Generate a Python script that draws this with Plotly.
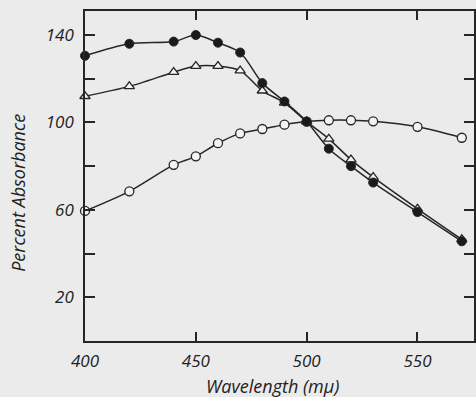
import plotly.graph_objects as go

wavelength = [400, 420, 440, 450, 460, 470, 480, 490, 500, 510, 520, 530, 550, 570]
filled_circles = [130.5, 136, 137, 140, 136.5, 132, 118, 109.6, 100.4, 88, 80, 72.5, 59, 45.6]
triangles = [112, 116.5, 123, 125.8, 125.8, 123.7, 114.5, 109, 100.4, 92.5, 83, 75, 60.5, 46.5]
open_circles = [59.5, 68.5, 80.6, 84.5, 90.5, 95, 97, 99, 100.4, 101, 101, 100.5, 98, 93]

y_tickvals = [20, 40, 60, 80, 100, 120, 140]
y_ticktext = ["20", "", "60", "", "100", "", "140"]
x_tickvals = [400, 450, 500, 550]
x_ticktext = ["400", "450", "500", "550"]

INK = "#262626"
BG = "#ebebeb"
FILL = "#f3f3f3"
FONT = "Open Sans"

fig = go.Figure()

fig.add_trace(go.Scatter(
    x=wavelength, y=open_circles, mode="lines+markers",
    line=dict(color=INK, width=1.5, shape="spline", smoothing=0.8),
    marker=dict(symbol="circle", size=9, color=FILL, line=dict(color=INK, width=1.3)),
    cliponaxis=False, showlegend=False))

fig.add_trace(go.Scatter(
    x=wavelength, y=triangles, mode="lines+markers",
    line=dict(color=INK, width=1.5, shape="spline", smoothing=0.8),
    marker=dict(symbol="triangle-up", size=9, color=FILL, line=dict(color=INK, width=1.3)),
    cliponaxis=False, showlegend=False))

fig.add_trace(go.Scatter(
    x=wavelength, y=filled_circles, mode="lines+markers",
    line=dict(color=INK, width=1.5, shape="spline", smoothing=0.8),
    marker=dict(symbol="circle", size=9, color="#1a1a1a", line=dict(color=INK, width=1)),
    cliponaxis=False, showlegend=False))

axis_common = dict(
    showline=True, linecolor=INK, linewidth=1.5, mirror="ticks",
    ticks="inside", tickcolor=INK, tickwidth=1.5,
    showgrid=False, zeroline=False,
    tickfont=dict(family=FONT, size=17, color="#222", style="italic"),
)

fig.update_layout(
    width=476, height=397,
    margin=dict(l=85, r=0, t=11, b=56),
    paper_bgcolor=BG, plot_bgcolor=BG,
    xaxis=dict(range=[400, 575.5], tickvals=x_tickvals, ticktext=x_ticktext,
               ticklen=9, ticklabelstandoff=4, **axis_common),
    yaxis=dict(range=[0, 151], tickvals=y_tickvals, ticktext=y_ticktext,
               ticklen=10, ticklabelstandoff=6, **axis_common),
    annotations=[
        dict(text="Wavelength (m\u03bc)", xref="paper", yref="paper",
             x=0.483, y=-0.136, xanchor="center", yanchor="middle", showarrow=False,
             font=dict(family=FONT, size=18, color="#222", style="italic")),
        dict(text="Percent Absorbance", xref="paper", yref="paper",
             x=-0.174, y=0.45, xanchor="center", yanchor="middle", showarrow=False,
             textangle=-90,
             font=dict(family=FONT, size=18, color="#222", style="italic")),
    ],
)

fig.write_html(
    "out.html",
    config={"displayModeBar": False},
    post_script="document.body.style.margin='0';document.body.style.background='%s';" % BG,
)
